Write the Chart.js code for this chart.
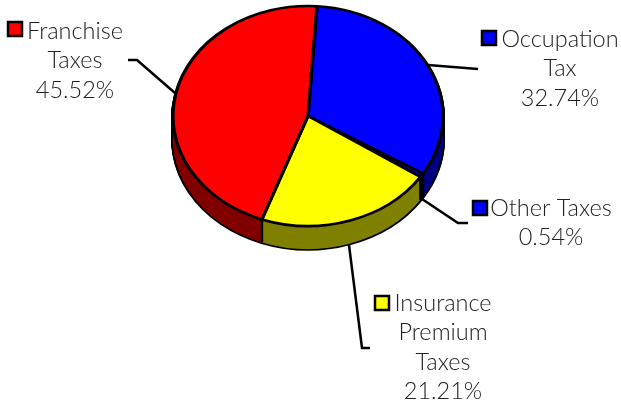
<!DOCTYPE html>
<html>
<head>
<meta charset="utf-8">
<style>
  html, body { margin: 0; padding: 0; background: #fff; }
  canvas { display: block; }
</style>
<script src="https://cdn.jsdelivr.net/npm/chart.js@4"></script>
</head>
<body>
<canvas id="taxChart" width="621" height="404"></canvas>
<script>
// Datos del gráfico
var categories = ['Occupation Tax', 'Other Taxes', 'Insurance Premium Taxes', 'Franchise Taxes'];
var shares = [32.74, 0.54, 21.21, 45.52];
var topColors = ['#0000ff', '#0000ff', '#ffff00', '#ff0000'];
var wallColors = ['#000080', '#000080', '#808000', '#800000'];
var labelLines = [['Occupation', 'Tax'], ['Other Taxes'], ['Insurance', 'Premium', 'Taxes'], ['Franchise', 'Taxes']];

var tilt = 110 / 135;
var depth = 23;

// Posición de cada etiqueta: clave, texto y línea guía
var labelBoxes = [
  { key: [482, 31], textX: 560, textY: 39, line: [[428, 65], [478, 69]] },
  { key: [473, 201], textX: 551, textY: 208, line: [[422, 199], [458, 223], [468, 223]] },
  { key: [375, 296], textX: 443, textY: 303, line: [[349, 245], [362, 348], [370, 348]] },
  { key: [8, 22], textX: 75, textY: 31, line: [[128, 60], [137, 60], [175, 93]] }
];

function drawArcWith(ctx, arc, overrides) {
  var original = arc.options;
  var opts = Object.create(original);
  Object.keys(overrides).forEach(function (k) { opts[k] = overrides[k]; });
  arc.options = opts;
  arc.draw(ctx);
  arc.options = original;
}

// Aplasta el pastel y le añade el costado en 3D
var pie3d = {
  id: 'pie3d',
  beforeDatasetsDraw: function (chart) {
    var ctx = chart.ctx;
    var arcs = chart.getDatasetMeta(0).data;
    var cx = arcs[0].x, cy = arcs[0].y;
    var layer, i;

    function squash(offset) {
      ctx.translate(cx, cy + offset);
      ctx.scale(1, tilt);
      ctx.translate(-cx, -cy);
    }

    // silueta negra
    for (layer = depth; layer >= 2; layer--) {
      ctx.save();
      squash(layer);
      for (i = 0; i < arcs.length; i++) {
        drawArcWith(ctx, arcs[i], { backgroundColor: '#000', borderColor: '#000', borderWidth: 4 });
      }
      ctx.restore();
    }
    // costado oscuro
    for (layer = depth; layer >= 0; layer--) {
      ctx.save();
      squash(layer);
      for (i = 0; i < arcs.length; i++) {
        drawArcWith(ctx, arcs[i], { backgroundColor: wallColors[i], borderWidth: 0 });
      }
      ctx.restore();
    }
    // aristas verticales entre porciones
    ctx.save();
    ctx.strokeStyle = '#000';
    ctx.lineWidth = 2.5;
    for (i = 0; i < arcs.length; i++) {
      var a = arcs[i].startAngle;
      if (Math.sin(a) > 0) {
        var px = cx + arcs[i].outerRadius * Math.cos(a);
        var py = cy + arcs[i].outerRadius * tilt * Math.sin(a);
        ctx.beginPath();
        ctx.moveTo(px, py);
        ctx.lineTo(px, py + depth);
        ctx.stroke();
      }
    }
    ctx.restore();

    // cara superior: la dibuja la librería con esta escala
    ctx.save();
    squash(0);
  },
  afterDatasetsDraw: function (chart) {
    chart.ctx.restore();
  },
  afterDraw: function (chart) {
    var ctx = chart.ctx;
    ctx.save();
    ctx.font = '300 23.5px Lato';
    ctx.textAlign = 'center';
    ctx.textBaseline = 'middle';
    labelBoxes.forEach(function (box, i) {
      ctx.strokeStyle = '#000';
      ctx.lineWidth = 2.5;
      ctx.beginPath();
      box.line.forEach(function (p, n) {
        if (n === 0) ctx.moveTo(p[0], p[1]); else ctx.lineTo(p[0], p[1]);
      });
      ctx.stroke();

      ctx.fillStyle = topColors[i];
      ctx.fillRect(box.key[0], box.key[1], 14, 14);
      ctx.strokeRect(box.key[0], box.key[1], 14, 14);

      ctx.fillStyle = '#222';
      var lines = labelLines[i].concat([shares[i].toFixed(2) + '%']);
      lines.forEach(function (text, n) {
        ctx.fillText(text, box.textX, box.textY + n * 29.5);
      });
    });
    ctx.restore();
  }
};

var taxChart = new Chart(document.getElementById('taxChart'), {
  type: 'pie',
  data: {
    labels: categories,
    datasets: [{
      data: shares,
      backgroundColor: topColors,
      borderColor: '#000',
      borderWidth: 3.2,
      clip: false
    }]
  },
  options: {
    responsive: false,
    animation: false,
    rotation: 3.8,
    radius: 135,
    layout: { padding: { left: 173, right: 178, top: 0, bottom: 172 } },
    plugins: {
      legend: { display: false },
      tooltip: { enabled: false }
    }
  },
  plugins: [pie3d]
});
</script>
</body>
</html>
